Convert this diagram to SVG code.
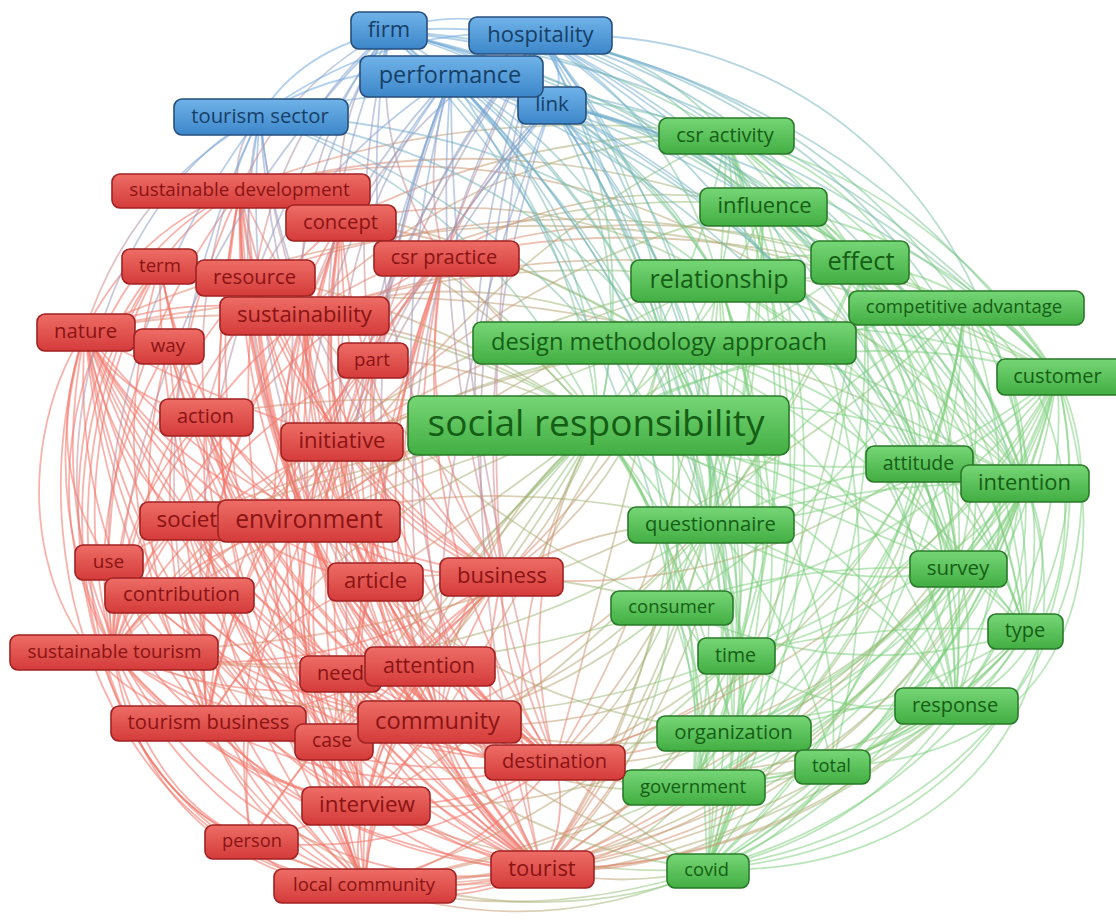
<svg xmlns="http://www.w3.org/2000/svg" width="1116" height="923" viewBox="0 0 1116 923">
<defs>
<linearGradient id="gR" x1="0" y1="0" x2="0" y2="1"><stop offset="0" stop-color="#ee6d66"/><stop offset="1" stop-color="#d43b3a"/></linearGradient>
<linearGradient id="gG" x1="0" y1="0" x2="0" y2="1"><stop offset="0" stop-color="#76d676"/><stop offset="1" stop-color="#42ae42"/></linearGradient>
<linearGradient id="gB" x1="0" y1="0" x2="0" y2="1"><stop offset="0" stop-color="#70b3e9"/><stop offset="1" stop-color="#3c86c9"/></linearGradient>
<linearGradient id="eRG" x1="0" y1="0" x2="1" y2="0"><stop offset="0" stop-color="#ef7a6c"/><stop offset="1" stop-color="#80cf7c"/></linearGradient>
<linearGradient id="eBG" x1="0" y1="0" x2="1" y2="1"><stop offset="0" stop-color="#6ea6de"/><stop offset="1" stop-color="#80cf7c"/></linearGradient>
<linearGradient id="eBR" x1="0" y1="0" x2="0" y2="1"><stop offset="0" stop-color="#6ea6de"/><stop offset="1" stop-color="#ef7a6c"/></linearGradient>
</defs>
<style>
.edges path{fill:none;stroke-width:1.8;stroke-opacity:.52;stroke-linecap:round}
.er path{stroke:#f2766a;stroke-opacity:.56}
.eg path{stroke:#7ccf7c}
.eb path{stroke:#6ea6de}
.erg path{stroke:url(#eRG)}
.ebg path{stroke:url(#eBG)}
.ebr path{stroke:url(#eBR)}
.node rect{stroke-width:1.6}
.node text{font-family:"Open Sans","Noto Sans","DejaVu Sans",sans-serif;text-anchor:middle}
.red rect{fill:url(#gR);stroke:#a02222}
.red text{fill:#8a1313}
.green rect{fill:url(#gG);stroke:#2a7a2a}
.green text{fill:#155e15}
.blue rect{fill:url(#gB);stroke:#264f7c}
.blue text{fill:#163f68}
</style>
<rect width="1116" height="923" fill="#ffffff"/>
<g id="connectors" class="edges">
<g class="er">
<path d="M85 331Q35 497 113 651"/><path d="M85 331Q68 551 208 722"/><path d="M85 331Q184 597 440 721"/><path d="M85 331Q159 470 309 520"/>
<path d="M240 190Q84 395 113 651"/><path d="M240 190Q118 450 208 722"/><path d="M240 190Q234 495 440 721"/><path d="M240 190Q255 589 542 869"/><path d="M240 190Q180 522 366 805"/>
<path d="M341 222Q141 390 113 651"/><path d="M341 222Q290 491 440 721"/><path d="M341 222Q340 535 555 762"/><path d="M341 222Q312 585 542 869"/>
<path d="M444 258Q349 489 440 721"/><path d="M444 258Q371 584 542 869"/><path d="M444 258Q325 362 309 520"/>
<path d="M304 315Q291 545 440 721"/><path d="M304 315Q142 445 113 651"/><path d="M304 315Q312 640 542 869"/><path d="M304 315Q221 612 365 885"/>
<path d="M309 520Q356 742 542 869"/><path d="M309 520Q264 714 365 885"/><path d="M309 520Q384 690 555 762"/><path d="M309 520Q185 547 113 651"/>
<path d="M342 441Q356 695 542 869"/><path d="M342 441Q265 668 365 885"/><path d="M342 441Q217 623 251 841"/><path d="M342 441Q186 500 113 651"/>
<path d="M440 721Q263 751 113 651"/><path d="M440 721Q370 819 251 841"/><path d="M440 721Q370 788 365 885"/><path d="M440 721Q461 815 542 869"/>
<path d="M502 577Q323 692 113 651"/><path d="M502 577Q384 709 208 722"/><path d="M502 577Q372 704 365 885"/><path d="M502 577Q464 731 542 869"/><path d="M502 577Q245 537 85 331"/>
<path d="M376 581Q181 514 85 331"/><path d="M376 581Q264 618 208 722"/><path d="M376 581Q401 758 542 869"/>
<path d="M113 651Q284 846 542 869"/><path d="M113 651Q192 818 365 885"/><path d="M208 722Q346 863 542 869"/><path d="M208 722Q374 811 555 762"/>
<path d="M251 841Q391 913 542 869"/><path d="M365 885Q457 912 542 869"/><path d="M366 805Q441 872 542 869"/><path d="M366 805Q209 779 113 651"/>
<path d="M160 265Q60 449 113 651"/><path d="M160 265Q209 549 440 721"/><path d="M160 265Q230 643 542 869"/>
<path d="M169 346Q114 542 208 722"/><path d="M169 346Q230 588 440 721"/>
<path d="M205 416Q283 710 542 869"/><path d="M205 416Q112 516 113 651"/><path d="M205 416Q191 683 365 885"/>
<path d="M255 276Q259 536 440 721"/><path d="M255 276Q109 436 113 651"/><path d="M255 276Q308 579 555 762"/>
<path d="M185 521Q294 766 542 869"/><path d="M185 521Q202 739 365 885"/><path d="M108 561Q242 707 440 721"/>
<path d="M181 594Q307 804 542 869"/><path d="M181 594Q334 753 555 762"/><path d="M341 673Q403 811 542 869"/>
<path d="M430 666Q269 722 113 651"/><path d="M430 666Q354 763 365 885"/><path d="M555 762Q312 795 113 651"/><path d="M555 762Q419 863 251 841"/>
<path d="M85 331Q206 691 542 869"/><path d="M85 331Q114 664 365 885"/><path d="M240 190Q164 563 365 885"/><path d="M341 222Q220 559 365 885"/>
<path d="M372 360Q185 454 113 651"/><path d="M372 360Q355 649 542 869"/><path d="M304 315Q266 419 309 520"/><path d="M342 441Q335 601 440 721"/>
<path d="M309 520Q335 647 440 721"/><path d="M185 521Q123 572 113 651"/><path d="M240 190Q135 230 85 331"/>
<path d="M240 190Q250 330 342 441"/><path d="M341 222Q290 380 309 520"/><path d="M444 258Q409 430 502 577"/><path d="M304 315Q351 486 502 577"/>
<path d="M372 360Q334 555 440 721"/><path d="M85 331Q131 624 366 805"/><path d="M160 265Q155 576 366 805"/><path d="M169 346Q251 683 542 869"/>
<path d="M205 416Q262 616 440 721"/><path d="M255 276Q280 630 542 869"/><path d="M341 222Q237 519 366 805"/><path d="M309 520Q281 674 366 805"/>
<path d="M342 441Q385 645 555 762"/><path d="M240 190Q284 539 555 762"/><path d="M444 258Q399 532 555 762"/><path d="M304 315Q341 589 555 762"/>
<path d="M185 521Q273 672 440 721"/><path d="M181 594Q286 710 440 721"/><path d="M108 561Q263 802 542 869"/><path d="M208 722Q254 835 365 885"/>
<path d="M341 673Q320 790 365 885"/><path d="M376 581Q310 731 365 885"/><path d="M502 577Q388 664 366 805"/><path d="M430 666Q445 790 542 869"/>
<path d="M342 441Q400 540 502 577"/><path d="M240 190Q285 190 341 222"/><path d="M304 315Q300 385 342 441"/><path d="M85 331Q120 400 205 416"/>
<path d="M85 331Q110 460 185 521"/><path d="M444 258Q370 330 342 441"/><path d="M555 762Q570 820 542 869"/><path d="M440 721Q500 760 555 762"/>
<path d="M251 841Q280 885 365 885"/><path d="M169 346Q80 500 113 651"/><path d="M372 360Q320 420 309 520"/>
<path d="M85 331Q250 700 555 762"/><path d="M85 331Q150 620 341 673"/><path d="M85 331Q200 560 376 581"/><path d="M85 331Q130 660 332 741"/>
<path d="M240 190Q300 480 502 577"/><path d="M240 190Q230 540 430 666"/><path d="M240 190Q240 460 376 581"/><path d="M240 190Q170 560 332 741"/>
<path d="M240 190Q240 380 309 520"/><path d="M341 222Q360 450 502 577"/><path d="M341 222Q300 500 430 666"/><path d="M341 222Q180 480 208 722"/>
<path d="M341 222Q320 340 342 441"/><path d="M444 258Q370 480 430 666"/><path d="M444 258Q330 560 366 805"/><path d="M444 258Q200 380 113 651"/>
<path d="M444 258Q330 600 365 885"/><path d="M444 258Q380 440 376 581"/><path d="M444 258Q250 480 208 722"/><path d="M255 276Q220 580 366 805"/>
<path d="M255 276Q330 480 502 577"/><path d="M255 276Q260 410 309 520"/><path d="M160 265Q190 430 309 520"/><path d="M160 265Q90 500 208 722"/>
<path d="M169 346Q190 640 366 805"/><path d="M169 346Q210 470 309 520"/><path d="M372 360Q370 620 555 762"/><path d="M372 360Q300 600 366 805"/>
<path d="M372 360Q220 520 208 722"/><path d="M205 416Q210 650 366 805"/><path d="M205 416Q320 690 555 762"/><path d="M205 416Q250 460 309 520"/>
<path d="M342 441Q300 640 366 805"/><path d="M342 441Q230 560 208 722"/><path d="M342 441Q360 580 430 666"/><path d="M342 441Q290 600 332 741"/>
<path d="M185 521Q240 720 366 805"/><path d="M185 521Q330 730 555 762"/><path d="M309 520Q400 580 502 577"/><path d="M309 520Q340 630 430 666"/>
<path d="M309 520Q230 700 251 841"/><path d="M309 520Q220 610 208 722"/><path d="M309 520Q290 650 332 741"/><path d="M108 561Q130 670 208 722"/>
<path d="M108 561Q300 760 555 762"/><path d="M181 594Q240 750 366 805"/><path d="M181 594Q220 800 365 885"/><path d="M376 581Q390 660 440 721"/>
<path d="M376 581Q440 700 555 762"/><path d="M376 581Q330 700 366 805"/><path d="M502 577Q500 690 555 762"/><path d="M502 577Q460 640 440 721"/>
<path d="M502 577Q400 680 332 741"/><path d="M502 577Q320 720 251 841"/><path d="M113 651Q220 780 366 805"/><path d="M113 651Q150 800 251 841"/>
<path d="M208 722Q280 800 366 805"/><path d="M341 673Q440 770 555 762"/><path d="M430 666Q500 700 555 762"/><path d="M430 666Q380 730 366 805"/>
<path d="M332 741Q420 850 542 869"/><path d="M332 741Q330 820 365 885"/><path d="M366 805Q350 850 365 885"/><path d="M366 805Q470 810 555 762"/>
<path d="M555 762Q480 860 365 885"/><path d="M304 315Q330 560 430 666"/><path d="M304 315Q250 600 366 805"/><path d="M304 315Q180 500 208 722"/>
<path d="M304 315Q310 470 376 581"/><path d="M85 331Q190 290 304 315"/><path d="M85 331Q210 400 342 441"/>
<path d="M85 331C0 600 150 880 365 885"/><path d="M160 265C20 450 80 780 251 841"/><path d="M240 190C80 260 20 500 113 651"/><path d="M85 331C10 700 300 920 542 869"/>
<path d="M85 331C5 450 20 680 208 722"/><path d="M240 190C40 300 30 760 251 841"/><path d="M160 265C10 420 60 860 365 885"/><path d="M85 331Q40 460 108 561"/>
<path d="M113 651C150 900 400 925 542 869"/>
</g>
<g class="eg">
<path d="M598 423Q742 624 707 869"/><path d="M1057 376Q981 693 707 869"/><path d="M1025 483Q943 740 707 869"/><path d="M1025 631Q914 814 707 869"/>
<path d="M965 306Q949 640 707 869"/><path d="M860 262Q905 597 707 869"/><path d="M726 135Q940 190 1057 376"/><path d="M726 135Q946 249 1025 483"/>
<path d="M726 135Q975 323 1025 631"/><path d="M726 135Q955 374 955 705"/><path d="M763 206Q868 549 707 869"/><path d="M763 206Q934 349 958 569"/>
<path d="M763 206Q910 472 832 766"/><path d="M718 279Q831 576 707 869"/><path d="M718 279Q922 445 955 705"/><path d="M664 342Q883 466 955 705"/>
<path d="M664 342Q768 558 693 786"/><path d="M598 423Q819 308 1057 376"/><path d="M598 423Q854 442 1025 631"/><path d="M598 423Q833 493 955 705"/>
<path d="M598 423Q784 548 832 766"/><path d="M598 423Q719 586 693 786"/><path d="M1057 376Q1092 510 1025 631"/><path d="M1057 376Q1072 561 955 705"/>
<path d="M1057 376Q1023 616 832 766"/><path d="M965 306Q1060 457 1025 631"/><path d="M965 306Q1040 508 955 705"/><path d="M965 306Q925 600 693 786"/>
<path d="M860 262Q1017 414 1025 631"/><path d="M860 262Q970 396 958 569"/><path d="M860 262Q891 522 733 732"/><path d="M1025 483Q1034 608 955 705"/>
<path d="M1025 483Q920 701 693 786"/><path d="M918 463Q894 708 707 869"/><path d="M958 569Q893 769 707 869"/><path d="M710 524Q778 698 707 869"/>
<path d="M671 606Q910 568 1057 376"/><path d="M710 524Q914 519 1057 376"/><path d="M735 656Q952 580 1057 376"/><path d="M733 732Q929 666 1025 483"/>
<path d="M733 732Q934 565 965 306"/><path d="M693 786Q957 654 1057 376"/><path d="M707 869Q864 837 955 705"/><path d="M707 869Q791 843 832 766"/>
<path d="M718 279Q786 243 860 262"/><path d="M763 206Q944 232 1057 376"/><path d="M718 279Q907 260 1057 376"/><path d="M664 342Q873 341 1025 483"/>
<path d="M726 135Q929 306 958 569"/><path d="M726 135Q864 506 707 869"/><path d="M671 606Q843 690 1025 631"/><path d="M735 656Q835 725 955 705"/>
<path d="M710 524Q825 597 958 569"/><path d="M598 423Q824 368 1025 483"/><path d="M664 342Q791 597 707 869"/><path d="M718 279Q807 538 693 786"/>
<path d="M726 135Q700 290 598 423"/><path d="M763 206Q720 330 598 423"/><path d="M860 262Q760 330 598 423"/><path d="M965 306Q780 340 598 423"/>
<path d="M918 463Q760 480 598 423"/><path d="M958 569Q800 460 598 423"/><path d="M1057 376Q1000 420 918 463"/><path d="M965 306Q1030 380 1025 483"/>
<path d="M860 262Q930 360 918 463"/><path d="M664 342Q820 370 918 463"/><path d="M671 606Q660 500 598 423"/><path d="M735 656Q700 520 598 423"/>
<path d="M733 732Q690 560 598 423"/><path d="M710 524Q880 580 955 705"/><path d="M671 606Q720 750 707 869"/><path d="M735 656Q760 770 707 869"/>
<path d="M726 135Q740 210 718 279"/><path d="M763 206Q830 210 860 262"/><path d="M1057 376C1130 520 1050 820 707 869"/><path d="M965 306C1080 420 1010 700 832 766"/>
<path d="M726 135C1000 200 1120 700 707 869"/><path d="M763 206C1050 300 1000 750 693 786"/><path d="M664 342Q860 300 1057 376"/><path d="M718 279Q900 380 958 569"/>
<path d="M1057 376Q1030 480 958 569"/><path d="M1057 376Q980 620 733 732"/><path d="M1025 483Q1000 540 958 569"/><path d="M1025 483Q1060 560 1025 631"/>
<path d="M1025 483Q900 620 735 656"/><path d="M1025 483Q960 680 832 766"/><path d="M1025 483Q870 480 710 524"/><path d="M918 463Q970 600 955 705"/>
<path d="M918 463Q1000 540 1025 631"/><path d="M918 463Q810 480 710 524"/><path d="M918 463Q850 600 735 656"/><path d="M918 463Q860 700 693 786"/>
<path d="M958 569Q1000 590 1025 631"/><path d="M958 569Q980 640 955 705"/><path d="M958 569Q800 560 671 606"/><path d="M958 569Q860 680 733 732"/>
<path d="M958 569Q860 740 693 786"/><path d="M1025 631Q1000 680 955 705"/><path d="M1025 631Q870 620 735 656"/><path d="M1025 631Q880 720 733 732"/>
<path d="M1025 631Q950 720 832 766"/><path d="M955 705Q850 700 733 732"/><path d="M955 705Q840 780 693 786"/><path d="M955 705Q900 750 832 766"/>
<path d="M965 306Q830 380 710 524"/><path d="M965 306Q850 500 671 606"/><path d="M965 306Q990 430 958 569"/><path d="M965 306Q960 380 918 463"/>
<path d="M860 262Q980 330 1025 483"/><path d="M860 262Q980 280 1057 376"/><path d="M860 262Q800 400 710 524"/><path d="M860 262Q980 450 955 705"/>
<path d="M860 262Q850 560 693 786"/><path d="M763 206Q960 280 1025 483"/><path d="M763 206Q990 380 1025 631"/><path d="M763 206Q960 420 955 705"/>
<path d="M763 206Q760 380 710 524"/><path d="M763 206Q740 420 671 606"/><path d="M718 279Q920 330 1025 483"/><path d="M718 279Q950 400 1025 631"/>
<path d="M718 279Q740 400 710 524"/><path d="M718 279Q790 480 735 656"/><path d="M718 279Q800 520 733 732"/><path d="M726 135Q900 260 918 463"/>
<path d="M726 135Q780 330 710 524"/><path d="M726 135Q830 400 735 656"/><path d="M726 135Q860 440 733 732"/><path d="M726 135Q840 480 693 786"/>
<path d="M664 342Q880 400 958 569"/><path d="M664 342Q900 450 1025 631"/><path d="M664 342Q760 500 735 656"/><path d="M664 342Q850 560 832 766"/>
<path d="M664 342Q720 430 710 524"/><path d="M598 423Q800 500 958 569"/><path d="M598 423Q700 560 735 656"/><path d="M710 524Q760 640 733 732"/>
<path d="M710 524Q740 660 693 786"/><path d="M671 606Q720 700 693 786"/><path d="M671 606Q720 660 733 732"/><path d="M693 786Q760 790 832 766"/>
<path d="M733 732Q730 800 707 869"/><path d="M735 656Q730 720 693 786"/><path d="M1057 376C1110 600 1000 850 707 869"/><path d="M1025 483C1100 700 950 880 707 869"/>
<path d="M1025 631Q900 780 693 786"/><path d="M1057 376C1120 560 1080 760 832 766"/><path d="M965 306C1100 400 1100 650 955 705"/>
</g>
<g class="erg">
<path d="M598 423Q360 274 85 331"/><path d="M598 423Q310 440 113 651"/><path d="M598 423Q481 635 542 869"/><path d="M598 423Q390 607 365 885"/>
<path d="M598 423Q343 495 208 722"/><path d="M598 423Q466 235 240 190"/><path d="M598 423Q509 584 555 762"/><path d="M598 423Q459 540 440 721"/>
<path d="M664 342Q327 387 113 651"/><path d="M664 342Q708 630 542 869"/><path d="M718 279Q748 609 542 869"/><path d="M718 279Q342 344 113 651"/>
<path d="M1057 376Q899 726 542 869"/><path d="M1025 483Q775 816 365 885"/><path d="M1025 631Q746 890 365 885"/><path d="M1057 376Q883 669 555 762"/>
<path d="M965 306Q608 649 113 651"/><path d="M860 262Q742 576 440 721"/><path d="M710 524Q437 707 113 651"/><path d="M671 606Q373 484 240 190"/>
<path d="M693 786Q554 805 440 721"/><path d="M707 869Q539 945 365 885"/><path d="M707 869Q473 946 251 841"/><path d="M733 732Q479 711 309 520"/>
<path d="M735 656Q423 777 113 651"/><path d="M955 705Q781 870 542 869"/><path d="M958 569Q795 746 555 762"/><path d="M918 463Q733 603 502 577"/>
<path d="M726 135Q479 141 304 315"/><path d="M763 206Q593 168 444 258"/><path d="M718 279Q541 176 341 222"/><path d="M860 262Q564 102 240 190"/>
<path d="M965 306Q616 149 255 276"/><path d="M1025 483Q585 219 85 331"/><path d="M710 524Q614 677 440 721"/><path d="M671 606Q660 764 542 869"/>
<path d="M664 342Q630 490 502 577"/><path d="M598 423Q466 381 342 441"/><path d="M664 342Q489 257 304 315"/><path d="M707 869Q485 844 341 673"/>
<path d="M598 423Q560 520 502 577"/><path d="M598 423Q470 520 376 581"/><path d="M598 423Q450 430 309 520"/><path d="M598 423Q520 560 430 666"/>
<path d="M598 423Q480 360 372 360"/><path d="M598 423Q500 320 444 258"/><path d="M664 342Q500 240 341 222"/><path d="M710 524Q600 520 502 577"/>
<path d="M671 606Q620 720 555 762"/><path d="M693 786Q640 860 542 869"/><path d="M733 732Q650 770 555 762"/><path d="M735 656Q600 740 440 721"/>
<path d="M598 423Q470 560 341 673"/><path d="M598 423Q440 640 366 805"/><path d="M598 423Q380 640 251 841"/><path d="M598 423Q360 480 181 594"/>
<path d="M598 423Q380 440 185 521"/><path d="M598 423Q400 380 205 416"/><path d="M598 423Q460 330 304 315"/><path d="M598 423Q480 290 341 222"/>
<path d="M598 423Q420 300 255 276"/><path d="M598 423Q330 460 108 561"/><path d="M598 423Q440 600 332 741"/><path d="M664 342Q470 400 309 520"/>
<path d="M664 342Q500 370 342 441"/><path d="M664 342Q540 560 440 721"/><path d="M664 342Q610 560 555 762"/><path d="M664 342Q460 220 240 190"/>
<path d="M718 279Q520 330 342 441"/><path d="M718 279Q500 380 309 520"/><path d="M718 279Q620 470 502 577"/><path d="M718 279Q680 560 555 762"/>
<path d="M718 279Q500 250 304 315"/><path d="M710 524Q500 470 309 520"/><path d="M710 524Q650 720 542 869"/><path d="M710 524Q640 670 555 762"/>
<path d="M710 524Q520 720 366 805"/><path d="M671 606Q560 700 440 721"/><path d="M671 606Q520 560 376 581"/><path d="M671 606Q400 700 113 651"/>
<path d="M735 656Q650 730 555 762"/><path d="M735 656Q660 800 542 869"/><path d="M735 656Q560 830 365 885"/><path d="M733 732Q650 830 542 869"/>
<path d="M733 732Q590 760 440 721"/><path d="M733 732Q550 820 366 805"/><path d="M693 786Q620 790 555 762"/><path d="M693 786Q530 860 365 885"/>
<path d="M707 869Q620 890 542 869"/><path d="M707 869Q630 830 555 762"/><path d="M707 869Q540 880 366 805"/><path d="M707 869Q560 820 440 721"/>
<path d="M955 705Q760 800 555 762"/><path d="M955 705Q700 900 365 885"/><path d="M832 766Q700 880 542 869"/><path d="M832 766Q700 790 555 762"/>
<path d="M1057 376Q950 860 365 885"/><path d="M1025 483Q880 820 542 869"/><path d="M1025 631Q820 870 542 869"/><path d="M958 569Q800 820 542 869"/>
<path d="M958 569Q760 880 365 885"/><path d="M918 463Q800 700 555 762"/><path d="M965 306Q900 760 542 869"/><path d="M860 262Q820 700 542 869"/>
<path d="M763 206Q760 650 542 869"/><path d="M726 135Q720 600 542 869"/><path d="M726 135Q480 250 309 520"/><path d="M763 206Q520 180 304 315"/>
<path d="M860 262Q640 190 444 258"/><path d="M763 206Q520 260 342 441"/><path d="M726 135Q460 100 240 190"/><path d="M726 135Q520 130 341 222"/>
<path d="M965 306Q700 200 444 258"/><path d="M1057 376Q700 180 304 315"/><path d="M1025 483Q650 80 240 190"/><path d="M1057 376Q600 100 85 331"/>
<path d="M208 722C300 930 600 925 707 869"/>
</g>
<g class="ebg">
<path d="M451 76Q594 221 598 423"/><path d="M451 76Q611 166 664 342"/><path d="M389 31Q572 185 598 423"/><path d="M389 31Q604 89 718 279"/>
<path d="M540 36Q646 218 598 423"/><path d="M540 36Q678 122 718 279"/><path d="M540 36Q867 103 1057 376"/><path d="M540 36Q807 86 965 306"/>
<path d="M540 36Q872 163 1025 483"/><path d="M540 36Q902 237 1025 631"/><path d="M540 36Q882 288 955 705"/><path d="M540 36Q791 420 707 869"/>
<path d="M552 104Q639 255 598 423"/><path d="M552 104Q715 282 710 524"/><path d="M451 76Q814 105 1057 376"/><path d="M451 76Q804 222 958 569"/>
<path d="M389 31Q792 70 1057 376"/><path d="M389 31Q797 130 1025 483"/><path d="M260 116Q490 202 598 423"/><path d="M260 116Q507 148 664 342"/>
<path d="M552 104Q712 331 671 606"/><path d="M540 36Q653 49 726 135"/><path d="M540 36Q686 76 763 206"/><path d="M540 36Q745 85 860 262"/>
<path d="M451 76Q626 125 718 279"/><path d="M451 76Q671 248 710 524"/><path d="M552 104Q754 343 735 656"/><path d="M451 76Q723 348 733 732"/>
<path d="M552 104Q620 200 664 342"/><path d="M552 104Q660 170 718 279"/><path d="M389 31Q560 130 664 342"/><path d="M260 116Q520 120 718 279"/>
<path d="M540 36Q860 200 918 463"/><path d="M552 104Q850 250 958 569"/><path d="M451 76Q700 450 707 869"/><path d="M389 31Q720 380 693 786"/>
<path d="M389 31Q580 40 726 135"/><path d="M389 31Q620 80 763 206"/><path d="M389 31Q680 100 860 262"/><path d="M389 31Q660 250 710 524"/>
<path d="M451 76Q640 110 763 206"/><path d="M451 76Q700 120 860 262"/><path d="M451 76Q800 200 918 463"/><path d="M451 76Q860 180 1025 483"/>
<path d="M451 76Q660 300 671 606"/><path d="M451 76Q700 330 735 656"/><path d="M552 104Q740 140 860 262"/><path d="M552 104Q680 130 763 206"/>
<path d="M552 104Q820 250 918 463"/><path d="M552 104Q880 180 1057 376"/><path d="M552 104Q750 400 733 732"/><path d="M540 36Q720 250 710 524"/>
<path d="M540 36Q880 250 958 569"/><path d="M540 36Q650 170 664 342"/><path d="M260 116Q500 60 726 135"/><path d="M260 116Q580 220 710 524"/>
<path d="M540 36Q780 350 735 656"/><path d="M540 36Q760 450 693 786"/><path d="M540 36C800 20 1000 200 1025 483"/><path d="M389 31C750 0 1050 300 1025 631"/>
</g>
<g class="ebr">
<path d="M451 76Q291 270 309 520"/><path d="M451 76Q317 397 440 721"/><path d="M451 76Q338 491 542 869"/><path d="M389 31Q290 156 304 315"/>
<path d="M389 31Q251 260 309 520"/><path d="M389 31Q127 286 113 651"/><path d="M389 31Q161 341 208 722"/><path d="M540 36Q353 359 440 721"/>
<path d="M540 36Q403 402 555 762"/><path d="M260 116Q130 189 85 331"/><path d="M260 116Q80 355 113 651"/><path d="M260 116Q229 455 440 721"/>
<path d="M451 76Q324 237 342 441"/><path d="M389 31Q372 156 444 258"/><path d="M389 31Q337 327 502 577"/><path d="M260 116Q289 395 502 577"/>
<path d="M260 116Q230 150 240 190"/><path d="M451 76Q420 170 444 258"/><path d="M540 36Q480 150 444 258"/><path d="M552 104Q470 340 502 577"/>
<path d="M260 116Q270 300 342 441"/><path d="M451 76Q300 450 366 805"/><path d="M540 36Q380 120 304 315"/><path d="M389 31Q330 120 341 222"/>
<path d="M389 31Q350 200 372 360"/><path d="M389 31Q300 250 342 441"/><path d="M389 31Q280 120 255 276"/><path d="M389 31Q290 80 240 190"/>
<path d="M451 76Q350 180 304 315"/><path d="M451 76Q400 220 372 360"/><path d="M451 76Q430 330 502 577"/><path d="M451 76Q350 330 376 581"/>
<path d="M451 76Q450 400 555 762"/><path d="M451 76Q260 200 205 416"/><path d="M540 36Q400 200 342 441"/><path d="M540 36Q430 180 372 360"/>
<path d="M540 36Q480 300 502 577"/><path d="M540 36Q420 450 542 869"/><path d="M540 36Q370 250 309 520"/><path d="M552 104Q420 250 342 441"/>
<path d="M552 104Q400 300 309 520"/><path d="M552 104Q430 400 440 721"/><path d="M552 104Q450 220 372 360"/><path d="M552 104Q480 170 444 258"/>
<path d="M260 116Q220 330 309 520"/><path d="M260 116Q190 260 205 416"/><path d="M260 116Q240 200 255 276"/><path d="M260 116Q270 220 304 315"/>
<path d="M260 116Q120 400 208 722"/><path d="M260 116C120 180 20 450 113 651"/>
</g>
<g class="eb">
<path d="M389 31Q466 4 540 36"/><path d="M260 116Q348 58 451 76"/><path d="M451 76Q500 40 540 36"/><path d="M389 31Q410 60 451 76"/>
<path d="M552 104Q570 70 540 36"/><path d="M389 31Q480 50 552 104"/><path d="M260 116Q300 50 389 31"/><path d="M260 116Q390 20 540 36"/>
</g>
</g>
<g id="nodes">
<g id="n-firm" class="node blue"><rect x="351" y="12" width="76" height="37" rx="8"/><text x="389" y="36.5" font-size="22">firm</text></g>
<g id="n-hospitality" class="node blue"><rect x="469" y="17" width="143" height="37" rx="8"/><text x="540.5" y="41.5" font-size="22">hospitality</text></g>
<g id="n-link" class="node blue"><rect x="518" y="87" width="68" height="37" rx="8"/><text x="552" y="111" font-size="20.5">link</text></g>
<g id="n-performance" class="node blue"><rect x="360" y="56" width="183" height="41" rx="8"/><text x="450" y="83" font-size="23.5">performance</text></g>
<g id="n-tourism-sector" class="node blue"><rect x="174" y="99" width="174" height="36" rx="8"/><text x="260" y="122.5" font-size="20.3">tourism sector</text></g>

<g id="n-csr-activity" class="node green"><rect x="659" y="118" width="135" height="36" rx="8"/><text x="725" y="141.5" font-size="20">csr activity</text></g>
<g id="n-influence" class="node green"><rect x="700" y="188" width="127" height="38" rx="8"/><text x="764.5" y="213" font-size="22">influence</text></g>
<g id="n-effect" class="node green"><rect x="811" y="241" width="98" height="43" rx="8"/><text x="861" y="269.5" font-size="25.5">effect</text></g>
<g id="n-relationship" class="node green"><rect x="631" y="260" width="174" height="42" rx="8"/><text x="719" y="288" font-size="25">relationship</text></g>
<g id="n-competitive-advantage" class="node green"><rect x="849" y="291" width="235" height="34" rx="8"/><text x="964" y="313" font-size="18.6">competitive advantage</text></g>
<g id="n-design-methodology-approach" class="node green"><rect x="473" y="322" width="383" height="42" rx="8"/><text x="659" y="349.5" font-size="23.7">design methodology approach</text></g>
<g id="n-customer" class="node green"><rect x="997" y="359" width="130" height="36" rx="8"/><text x="1057.5" y="382.5" font-size="20">customer</text></g>
<g id="n-social-responsibility" class="node green"><rect x="408" y="396" width="381" height="59" rx="9"/><text x="596" y="435.5" font-size="37">social responsibility</text></g>
<g id="n-attitude" class="node green"><rect x="866" y="446" width="107" height="36" rx="8"/><text x="918.5" y="469.5" font-size="19.5">attitude</text></g>
<g id="n-intention" class="node green"><rect x="961" y="465" width="128" height="37" rx="8"/><text x="1024.5" y="489.5" font-size="22">intention</text></g>
<g id="n-questionnaire" class="node green"><rect x="628" y="507" width="166" height="36" rx="8"/><text x="710.5" y="530.5" font-size="20.2">questionnaire</text></g>
<g id="n-survey" class="node green"><rect x="910" y="551" width="97" height="36" rx="8"/><text x="958" y="574.5" font-size="20.5">survey</text></g>
<g id="n-consumer" class="node green"><rect x="611" y="591" width="122" height="34" rx="8"/><text x="671.5" y="613" font-size="18.5">consumer</text></g>
<g id="n-type" class="node green"><rect x="988" y="614" width="75" height="35" rx="8"/><text x="1025" y="637" font-size="20">type</text></g>
<g id="n-time" class="node green"><rect x="698" y="638" width="77" height="36" rx="8"/><text x="735.5" y="661.5" font-size="19.5">time</text></g>
<g id="n-response" class="node green"><rect x="895" y="688" width="123" height="36" rx="8"/><text x="955" y="711.5" font-size="20">response</text></g>
<g id="n-organization" class="node green"><rect x="657" y="716" width="154" height="35" rx="8"/><text x="733.5" y="739" font-size="20.4">organization</text></g>
<g id="n-total" class="node green"><rect x="795" y="750" width="75" height="34" rx="8"/><text x="831.5" y="772" font-size="18.4">total</text></g>
<g id="n-government" class="node green"><rect x="623" y="770" width="142" height="35" rx="8"/><text x="693" y="792.5" font-size="18.7">government</text></g>
<g id="n-covid" class="node green"><rect x="667" y="854" width="82" height="34" rx="8"/><text x="706.5" y="876" font-size="18.3">covid</text></g>

<g id="n-sustainable-development" class="node red"><rect x="112" y="174" width="258" height="34" rx="8"/><text x="239.5" y="196" font-size="18.8">sustainable development</text></g>
<g id="n-concept" class="node red"><rect x="286" y="205" width="110" height="36" rx="8"/><text x="340.5" y="228.5" font-size="20.3">concept</text></g>
<g id="n-csr-practice" class="node red"><rect x="374" y="241" width="145" height="35" rx="8"/><text x="444" y="264" font-size="20">csr practice</text></g>
<g id="n-term" class="node red"><rect x="122" y="249" width="75" height="35" rx="8"/><text x="160" y="271.5" font-size="18.6">term</text></g>
<g id="n-resource" class="node red"><rect x="196" y="260" width="119" height="36" rx="8"/><text x="254.5" y="283.5" font-size="20.2">resource</text></g>
<g id="n-sustainability" class="node red"><rect x="220" y="297" width="169" height="38" rx="8"/><text x="304.5" y="322" font-size="22">sustainability</text></g>
<g id="n-nature" class="node red"><rect x="37" y="314" width="98" height="37" rx="8"/><text x="85.5" y="338" font-size="20.3">nature</text></g>
<g id="n-way" class="node red"><rect x="134" y="329" width="70" height="35" rx="8"/><text x="168" y="351.5" font-size="18.8">way</text></g>
<g id="n-part" class="node red"><rect x="338" y="343" width="70" height="35" rx="8"/><text x="372" y="365.5" font-size="18.6">part</text></g>
<g id="n-action" class="node red"><rect x="160" y="399" width="93" height="37" rx="8"/><text x="205.5" y="423" font-size="20">action</text></g>
<g id="n-initiative" class="node red"><rect x="281" y="423" width="122" height="38" rx="8"/><text x="342" y="448" font-size="22">initiative</text></g>
<g id="n-society" class="node red"><rect x="140" y="502" width="105" height="38" rx="8"/><text x="192.5" y="527" font-size="22.3">society</text></g>
<g id="n-environment" class="node red"><rect x="218" y="500" width="182" height="42" rx="8"/><text x="309" y="527.5" font-size="24.6">environment</text></g>
<g id="n-use" class="node red"><rect x="75" y="545" width="68" height="35" rx="8"/><text x="108.5" y="567.5" font-size="19">use</text></g>
<g id="n-contribution" class="node red"><rect x="105" y="578" width="149" height="35" rx="8"/><text x="181.5" y="601" font-size="20.3">contribution</text></g>
<g id="n-article" class="node red"><rect x="328" y="563" width="95" height="38" rx="8"/><text x="375.5" y="588" font-size="22">article</text></g>
<g id="n-business" class="node red"><rect x="440" y="558" width="123" height="38" rx="8"/><text x="502" y="583" font-size="22">business</text></g>
<g id="n-sustainable-tourism" class="node red"><rect x="10" y="635" width="208" height="35" rx="8"/><text x="114.5" y="657.5" font-size="18.9">sustainable tourism</text></g>
<g id="n-need" class="node red"><rect x="300" y="656" width="81" height="36" rx="8"/><text x="340.5" y="679.5" font-size="20">need</text></g>
<g id="n-attention" class="node red"><rect x="365" y="647" width="130" height="39" rx="8"/><text x="429" y="672.5" font-size="21.6">attention</text></g>
<g id="n-tourism-business" class="node red"><rect x="111" y="706" width="195" height="35" rx="8"/><text x="208.5" y="729" font-size="20.3">tourism business</text></g>
<g id="n-case" class="node red"><rect x="295" y="724" width="78" height="36" rx="8"/><text x="332" y="747" font-size="19.3">case</text></g>
<g id="n-community" class="node red"><rect x="358" y="701" width="163" height="42" rx="8"/><text x="437.5" y="728.5" font-size="23.7">community</text></g>
<g id="n-destination" class="node red"><rect x="485" y="745" width="140" height="35" rx="8"/><text x="554.5" y="768" font-size="20">destination</text></g>
<g id="n-interview" class="node red"><rect x="302" y="787" width="128" height="38" rx="8"/><text x="367" y="812" font-size="22.4">interview</text></g>
<g id="n-person" class="node red"><rect x="205" y="825" width="93" height="34" rx="8"/><text x="252" y="847" font-size="18.3">person</text></g>
<g id="n-local-community" class="node red"><rect x="274" y="869" width="182" height="34" rx="8"/><text x="364" y="891" font-size="18.5">local community</text></g>
<g id="n-tourist" class="node red"><rect x="491" y="851" width="103" height="37" rx="8"/><text x="542" y="875.5" font-size="22">tourist</text></g>
</g>
</svg>
